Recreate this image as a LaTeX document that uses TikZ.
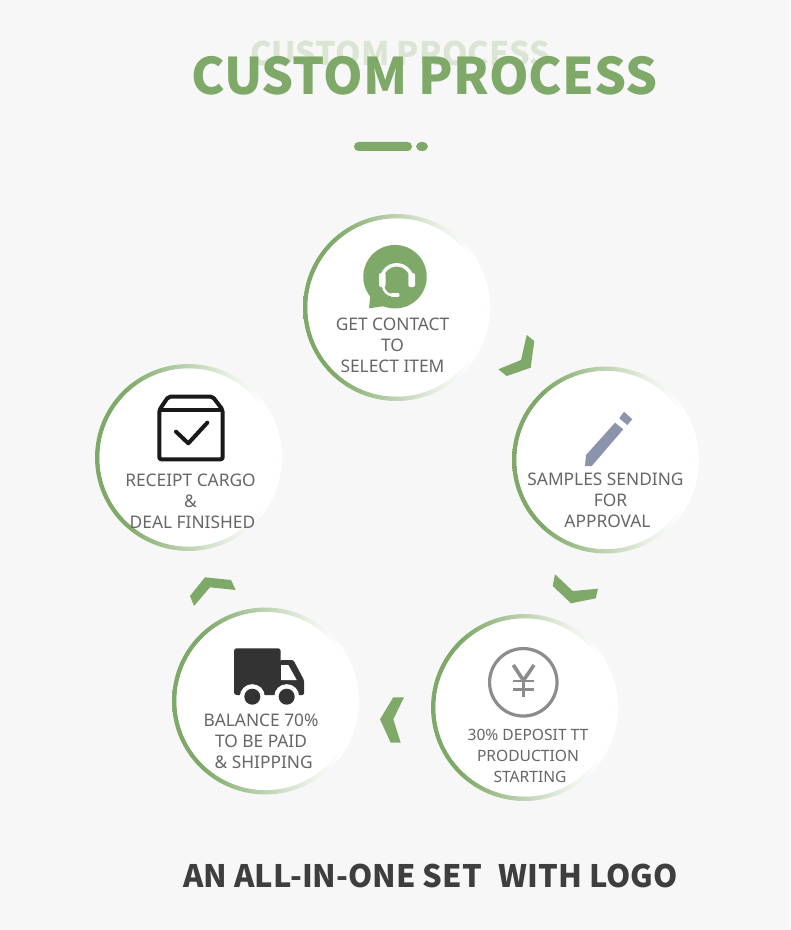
\documentclass[tikz,border=0pt]{standalone}
\usepackage{fontspec}
\setmainfont{Noto Sans}
\newfontfamily\headfont{Noto Sans CJK SC}
\definecolor{bgc}{HTML}{F7F7F7}
\definecolor{ringg}{HTML}{7FA968}
\definecolor{ringm}{HTML}{BFD4B3}
\definecolor{ringl}{HTML}{EAF1E6}
\definecolor{ghost}{HTML}{DAE5D3}
\definecolor{labelc}{HTML}{666666}
\definecolor{darkc}{HTML}{3E3E3E}
\definecolor{penc}{HTML}{8C94AD}
\definecolor{yenc}{HTML}{8C8C8C}
\definecolor{truckc}{HTML}{333333}
\pgfdeclarehorizontalshading{ringfade}{100bp}{color(0bp)=(ringg); color(33bp)=(ringg); color(50bp)=(ringm); color(62bp)=(ringl); color(70bp)=(white); color(100bp)=(white)}
\tikzset{
  title/.style={font=\headfont\bfseries\fontsize{37.8}{38}\selectfont,text=ringg,inner sep=0pt},
  ghosttitle/.style={font=\headfont\bfseries\fontsize{24.3}{25}\selectfont,text=ghost,inner sep=0pt},
  footer/.style={font=\headfont\bfseries\fontsize{23.2}{25}\selectfont,text=darkc,inner sep=0pt},
  disc/.style={circle,fill=white,minimum size=133.5pt,inner sep=0pt},
  lab/.style={font=\fontsize{13}{15.75}\selectfont,text=labelc,align=center,inner sep=0pt},
  labsmall/.style={font=\fontsize{11.7}{15.75}\selectfont,text=labelc,align=center,inner sep=0pt},
  chevron/.style={fill=ringg,draw=none},
}
\newcommand{\stepring}[3]{%
  \shade[even odd rule,shading=ringfade]
    (#2,#3) circle[radius=70.1pt] circle[radius=66.75pt];
  \node[disc] (#1) at (#2,#3) {};
}
\begin{document}
\begin{tikzpicture}[x=0.75pt,y=-0.75pt]
\fill[bgc] (0,0) rectangle (790,930);
\useasboundingbox (0,0) rectangle (790,930);
% headings
\node[ghosttitle] (ghost) at (400.5,53) {CUSTOM PROCESS};
\node[title] (title) at (424.5,76) {CUSTOM PROCESS};
\fill[ringg,rounded corners=3.3pt] (354,142) rectangle (412,151);
\fill[ringg] (422,146.5) ellipse[x radius=6,y radius=4.5];
% rings
\stepring{s1}{396.5}{307.5}
\stepring{s2}{605.5}{460}
\stepring{s3}{524.5}{707.5}
\stepring{s4}{265.5}{701}
\stepring{s5}{188.5}{457.5}
% chevrons
\fill[chevron] (526.7,335)--(534.3,341)--(530.7,367.7)--(506.7,376)--(498.3,369.3)--(521,360)--cycle;
\fill[chevron] (555,574.3)--(572.7,591)--(598,588.7)--(595.7,598.3)--(571,603.3)--(552.7,586)--cycle;
\fill[chevron] (393.3,697.3)--(404,697.3)--(393.3,719.3)--(400.7,742.7)--(390.7,742.7)--(380,719.3)--cycle;
\fill[chevron] (205,577.3)--(231,580)--(235.7,590)--(210,587.3)--(194,606)--(190,596)--cycle;
% headset icon
\fill[ringg] (395,276.7) circle[radius=23.8pt];
\fill[ringg] (369,308.3)--(371,288)--(392,305)--cycle;
\draw[white,line width=2.6pt] (381.5,280) arc[start angle=180,end angle=0,radius=11.4pt];
\fill[white,rounded corners=1.5pt] (379,273)--(385.7,273)--(385.7,287)--(379,287)--cycle;
\fill[white,rounded corners=1.5pt] (408.3,273)--(415,273)--(415,287)--(408.3,287)--cycle;
\draw[white,line width=1.8pt] (383,286) .. controls (384,292) and (388,295) .. (392,295);
\draw[white,line width=2.4pt,line cap=round] (392,295)--(398,295);
% pencil icon
\fill[penc] (619.3,418.3)--(624,411.7)--(632.3,419.3)--(627.3,425)--cycle;
\fill[penc] (615,422.7)--(623.3,429.3)--(591.7,466)--(585,466)--(586,455)--cycle;
% yen icon
\draw[yenc,line width=2.4pt] (523.3,682.3) circle[radius=25.3pt];
\draw[yenc,line width=2.7pt] (513.3,665)--(523.5,680.5)--(534,665);
\draw[yenc,line width=2.7pt] (523.5,680.5)--(523.5,697.3);
\draw[yenc,line width=2pt] (513.3,681)--(534,681);
\draw[yenc,line width=2pt] (513.3,689.3)--(534,689.3);
% truck icon
\fill[truckc,rounded corners=2pt] (234,648.3) rectangle (280.7,695);
\fill[truckc,rounded corners=1pt] (280,660)--(293.3,660)--(304,680)--(304,695)--(280,695)--cycle;
\fill[white] (281,665)--(288.3,665)--(296.7,680)--(281,680)--cycle;
\fill[white] (252.3,696.7) circle[radius=9.4pt];
\fill[white] (286.7,696.7) circle[radius=9.4pt];
\fill[truckc] (252.3,696.7) circle[radius=6pt];
\fill[truckc] (286.7,696.7) circle[radius=6pt];
% box icon
\draw[black!90,line width=3pt,line join=round,rounded corners=1.5pt]
  (159.3,410)--(168.3,396.7)--(212.7,396.7)--(222.7,410)--(222.7,459.3)--(159.3,459.3)--cycle;
\draw[black!90,line width=3pt] (159.3,410)--(222.7,410);
\draw[black!90,line width=3pt,line cap=round,line join=round] (176,431.7)--(188.3,443.3)--(207.3,422.7);
% labels
\node[lab] (t1) at (392.5,345) {GET CONTACT\\TO\\SELECT ITEM};
\node[lab] (t2) at (605.5,500) {SAMPLES SENDING\\\hspace*{7.5pt}FOR\\\hspace*{3pt}APPROVAL};
\node[labsmall] (t3) at (528,756) {30\% DEPOSIT TT\\PRODUCTION\\\hspace*{3pt}STARTING};
\node[lab] (t4) at (261,741) {BALANCE 70\%\\TO BE PAID\\\hspace*{4pt}\& SHIPPING};
\node[lab] (t5) at (190.5,501) {RECEIPT CARGO\\\&\\\hspace*{3pt}DEAL FINISHED};
% footer
\node[footer] (foot) at (430.5,876) {AN ALL-IN-ONE SET\hspace{0.55em}WITH LOGO};
\end{tikzpicture}
\end{document}
